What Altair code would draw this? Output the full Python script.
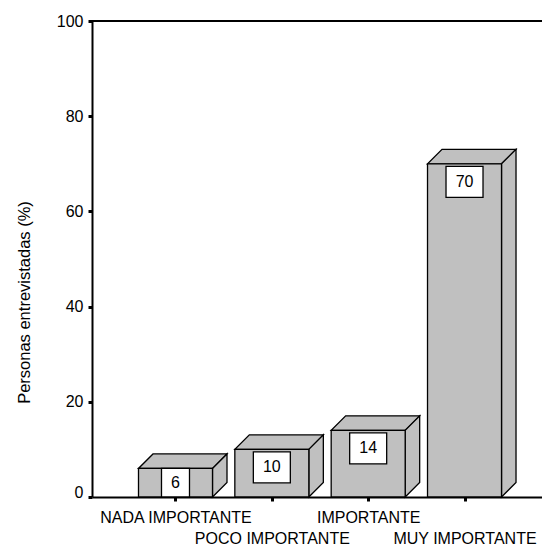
import altair as alt
import pandas as pd

# ---- data ----
categories = ["NADA IMPORTANTE", "POCO IMPORTANTE", "IMPORTANTE", "MUY IMPORTANTE"]
values = [6, 10, 14, 70]
y_ticks = [0, 20, 40, 60, 80, 100]
y_title = "Personas entrevistadas (%)"

# ---- layout / style constants ----
FONT = "Liberation Sans"
GRAY = "#c0c0c0"
W, H = 450, 476
STEP_PX = 96.34
X_DOMAIN = [-0.8667, -0.8667 + W / STEP_PX]
Y_DOMAIN = [0, 100]
PX_X = W / (X_DOMAIN[1] - X_DOMAIN[0])   # pixels per category step
PX_Y = H / (Y_DOMAIN[1] - Y_DOMAIN[0])   # pixels per percent
HALF_BAR = 37 / PX_X
DX = 14.5 / PX_X
DY = 14.5 / PX_Y
GAP = 2.5 / PX_Y
BOX_H = 31 / PX_Y

# ---- tables built from the arrays ----
front_rows, face_rows, box_rows = [], [], []
for i, (c, v) in enumerate(zip(categories, values)):
    xl, xr = i - HALF_BAR, i + HALF_BAR
    front_rows.append({"cat": c, "xl": xl, "xr": xr, "base": 0, "value": v})
    fid = f"top{i}"
    face_rows += [
        {"face": fid, "x": xl, "y": v, "y2": v},
        {"face": fid, "x": xl + DX, "y": v, "y2": v + DY},
        {"face": fid, "x": xr, "y": v, "y2": v + DY},
        {"face": fid, "x": xr + DX, "y": v + DY, "y2": v + DY},
    ]
    fid = f"side{i}"
    face_rows += [
        {"face": fid, "x": xr, "y": 0, "y2": v},
        {"face": fid, "x": xr + DX, "y": DY, "y2": v + DY},
    ]
    bw = (28 if len(str(v)) == 1 else 37) / PX_X / 2
    top = v - GAP if v - GAP - BOX_H >= 0 else v
    bottom = max(top - BOX_H, 0)
    box_rows.append({"label": str(v), "bl": i - bw, "br": i + bw,
                     "btop": top, "bbot": bottom, "bmid": (top + bottom) / 2, "idx": i})

front_df = pd.DataFrame(front_rows)
face_df = pd.DataFrame(face_rows)
box_df = pd.DataFrame(box_rows)

xs = alt.Scale(domain=X_DOMAIN, nice=False, zero=False)
ys = alt.Scale(domain=Y_DOMAIN, nice=False, zero=False)

parts = []
for i, c in enumerate(categories):
    if i % 2 == 0:
        parts.append("'" + c + "'")
    else:
        parts.append("['', '" + c + "']")
label_expr = "[" + ", ".join(parts) + "][round(datum.value)]"

x_axis = alt.Axis(
    values=list(range(len(categories))), labelExpr=label_expr, title=None,
    grid=False, tickSize=4, tickWidth=3, domainWidth=2, labelFontSize=16,
    labelPadding=8, labelLineHeight=21.5, labelOverlap=False, labelFlush=False,
    labelBound=False, labelBaseline="top", labelAlign="center",
)
y_axis = alt.Axis(
    values=y_ticks, grid=False, tickSize=4, tickWidth=3, domainWidth=2,
    labelFontSize=16, labelPadding=5, labelFlush=False,
    labelBaseline={"condition": {"test": "datum.value === 0", "value": "alphabetic"}, "value": "middle"},
    title=y_title, titleFontSize=16.5, titleFontWeight="normal", titleAngle=270,
    titleX=-68, titleY=281, titleBaseline="middle", titleAlign="center",
)

X = lambda f: alt.X(f, scale=xs, axis=x_axis)
Y = lambda f: alt.Y(f, scale=ys, axis=y_axis, stack=None)

faces = alt.Chart(face_df).mark_area(
    fill=GRAY, stroke="black", strokeWidth=1.3, strokeJoin="miter", interpolate="linear"
).encode(x=X("x:Q"), y=Y("y:Q"), y2="y2:Q", detail="face:N")

front = alt.Chart(front_df).mark_rect(fill=GRAY, stroke="black", strokeWidth=1.3).encode(
    x=X("xl:Q"), x2="xr:Q", y=Y("value:Q"), y2="base:Q",
)

boxes = alt.Chart(box_df).mark_rect(fill="white", stroke="black", strokeWidth=1.3).encode(
    x=X("bl:Q"), x2="br:Q", y=Y("btop:Q"), y2="bbot:Q",
)

labels = alt.Chart(box_df).mark_text(
    font=FONT, fontSize=16, color="black", baseline="middle", align="center"
).encode(x=X("idx:Q"), y=Y("bmid:Q"), text="label:N")

top_rule = alt.Chart(front_df).mark_rule(color="black", strokeWidth=2).encode(
    y=alt.value(0), x=alt.value(0), x2=alt.value(W)
)

chart = alt.layer(faces, front, boxes, labels, top_rule).properties(
    width=W, height=H,
    padding={"left": 84, "top": 13, "right": 0, "bottom": 52},
    autosize=alt.AutoSizeParams(type="none"),
).configure_axis(
    labelFont=FONT, titleFont=FONT, labelColor="black", titleColor="black",
    domainColor="black", tickColor="black",
).configure_view(stroke=None)

chart.save("out.html", embed_options={"renderer": "svg", "actions": False})
